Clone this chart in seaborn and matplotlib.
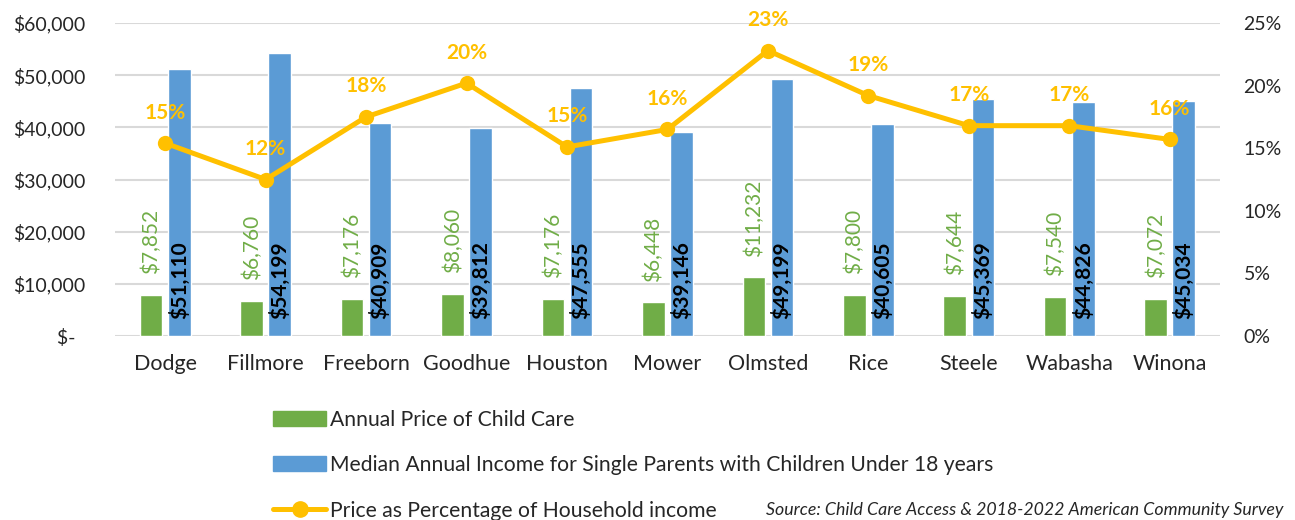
import matplotlib
matplotlib.use("Agg")
import matplotlib.pyplot as plt
import seaborn as sns
import numpy as np
import pandas as pd
from matplotlib.patches import Patch
from matplotlib.lines import Line2D
from matplotlib.ticker import FuncFormatter

counties = ["Dodge", "Fillmore", "Freeborn", "Goodhue", "Houston", "Mower",
            "Olmsted", "Rice", "Steele", "Wabasha", "Winona"]
child_care = [7852, 6760, 7176, 8060, 7176, 6448, 11232, 7800, 7644, 7540, 7072]
income = [51110, 54199, 40909, 39812, 47555, 39146, 49199, 40605, 45369, 44826, 45034]
pct = [15.4, 12.5, 17.5, 20.2, 15.1, 16.5, 22.8, 19.2, 16.8, 16.8, 15.7]

care_label = "Annual Price of Child Care"
income_label = "Median Annual Income for Single Parents with Children Under 18 years"
pct_label = "Price as Percentage of Household income"

GREEN = "#70AD47"
BLUE = "#5B9BD5"
GOLD = "#FFC000"

sns.set_theme(style="white")
plt.rcParams["font.family"] = ["Lato", "DejaVu Sans"]

df = pd.DataFrame({
    "county": counties * 2,
    "value": child_care + income,
    "series": [care_label] * len(counties) + [income_label] * len(counties),
})

fig = plt.figure(figsize=(12.95, 5.2), dpi=100)
ax = fig.add_axes([0.0888, 0.3538, 0.8532, 0.602])

sns.barplot(data=df, x="county", y="value", hue="series", order=counties,
            palette=[GREEN, BLUE], width=0.56, gap=0.2, saturation=1,
            legend=False, ax=ax)

ax.set_ylim(0, 60000)
ax.set_xlim(-0.5, len(counties) - 0.5)
ax.set_yticks(range(0, 60001, 10000))
ax.yaxis.set_major_formatter(FuncFormatter(lambda v, p: "$-  " if v == 0 else f"${v:,.0f}"))
ax.grid(axis="y", color="#D9D9D9", lw=1.5)
ax.set_axisbelow(True)
for s in ax.spines.values():
    s.set_visible(False)
ax.set_xlabel("")
ax.set_ylabel("")
ax.tick_params(axis="x", length=0, pad=13, labelsize=15.5)
ax.tick_params(axis="y", length=0, pad=21, labelsize=14)

# bar data labels
for i, (c, m) in enumerate(zip(child_care, income)):
    ax.annotate(f"${c:,}", (i - 0.14, c), xytext=(0, 15), textcoords="offset points",
                rotation=90, ha="center", va="bottom", color=GREEN, fontsize=15)
    ax.annotate(f"${m:,}", (i + 0.14, 0), xytext=(0, 12), textcoords="offset points",
                rotation=90, ha="center", va="bottom", color="black", fontsize=15,
                fontweight="bold")

ax2 = ax.twinx()
sns.lineplot(x=np.arange(len(counties)), y=pct, ax=ax2, color=GOLD, lw=3.6,
             marker="o", markersize=11, markeredgewidth=0)
ax2.set_ylim(0, 25)
ax2.set_yticks(range(0, 26, 5))
ax2.yaxis.set_major_formatter(FuncFormatter(lambda v, p: f"{v:.0f}%"))
ax2.tick_params(axis="y", length=0, pad=17, labelsize=14)
for s in ax2.spines.values():
    s.set_visible(False)
ax2.grid(False)
for i, p in enumerate(pct):
    ax2.annotate(f"{p:.0f}%", (i, p), xytext=(0, 22), textcoords="offset points",
                 ha="center", va="center", color=GOLD, fontsize=15, fontweight="bold")

handles = [Patch(color=GREEN), Patch(color=BLUE),
           Line2D([], [], color=GOLD, lw=3.6, marker="o", markersize=11)]
fig.legend(handles, [care_label, income_label, pct_label], loc="upper left",
           bbox_to_anchor=(0.203, 0.232), frameon=False, fontsize=15.2,
           handlelength=2.5, handletextpad=0.2, labelspacing=1.2, borderpad=0)

fig.text(0.991, 0.02, "Source: Child Care Access & 2018-2022 American Community Survey",
         ha="right", va="center", fontsize=12.8, style="italic")

fig.savefig("out.png", dpi=100)
